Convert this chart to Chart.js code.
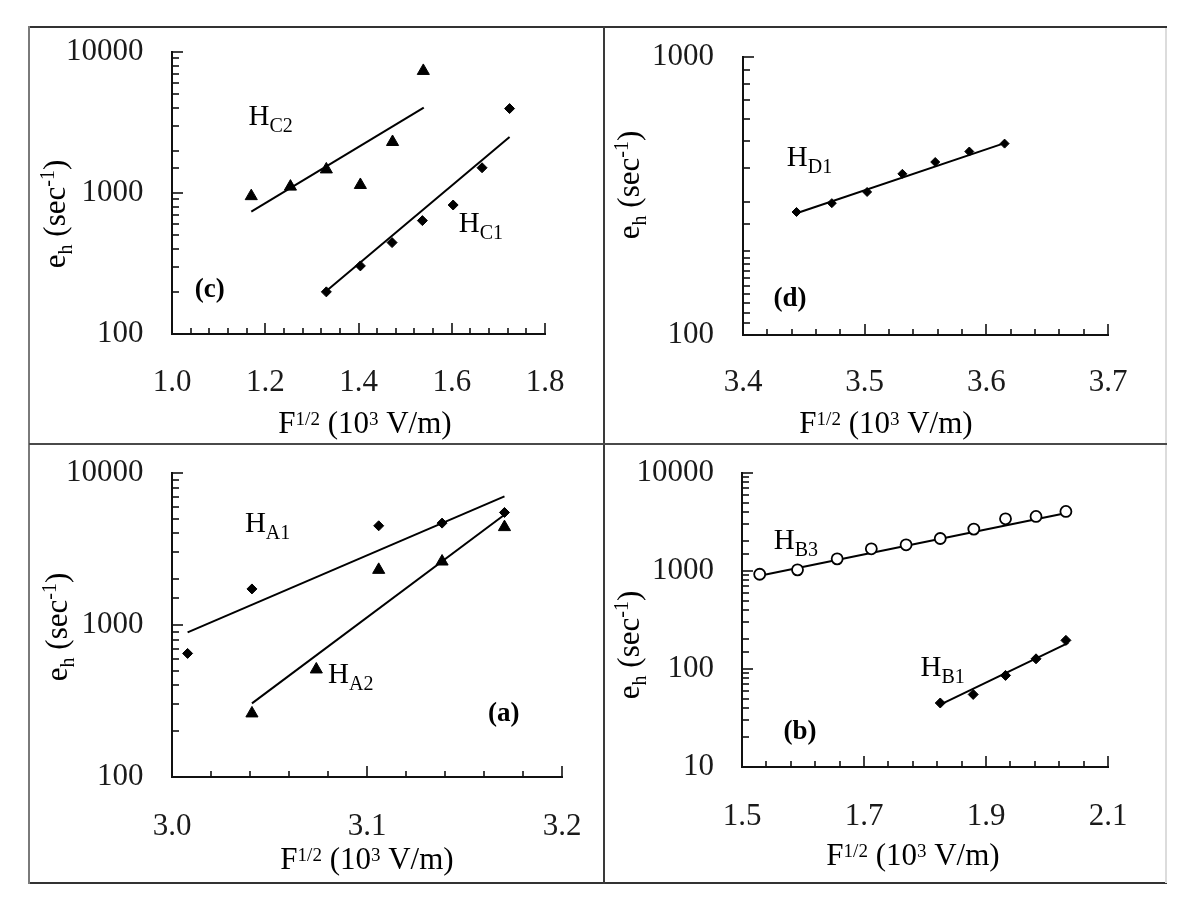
<!DOCTYPE html>
<html><head><meta charset="utf-8">
<script src="https://cdn.jsdelivr.net/npm/chart.js@4.4.0/dist/chart.umd.min.js"></script>
<style>
body{margin:0;background:#fff;}
#wrap{position:relative;width:1200px;height:909px;background:#fff;overflow:hidden;}
canvas{position:absolute;}
.ln{position:absolute;z-index:5;}
</style></head><body><div id="wrap">
<canvas id="pc"></canvas><canvas id="pd"></canvas><canvas id="pa"></canvas><canvas id="pb"></canvas>
<div class="ln" style="left:29px;top:26px;width:1138px;height:2px;background:#333"></div>
<div class="ln" style="left:29px;top:882px;width:1138px;height:2px;background:#333"></div>
<div class="ln" style="left:28px;top:26px;width:2px;height:858px;background:#7a7a7a"></div>
<div class="ln" style="left:1165px;top:28px;width:2px;height:855px;background:#dcdcdc"></div>
<div class="ln" style="left:603px;top:26px;width:2px;height:858px;background:#3a3a3a"></div>
<div class="ln" style="left:29px;top:443px;width:1138px;height:2px;background:#4a4a4a"></div>
</div>
<script>
// ---------- data ----------
// panel (c)
const cXLabels = ['1.0','1.2','1.4','1.6','1.8'];
const cYLabels = ['100','1000','10000'];
const cC2x = [1.170, 1.254, 1.331, 1.404, 1.473, 1.539];
const cC2y = [950, 1110, 1470, 1140, 2300, 7340];
const cC2fitX = [1.170, 1.540];
const cC2fitY = [738, 4036];
const cC1x = [1.331, 1.404, 1.472, 1.537, 1.603, 1.665, 1.724];
const cC1y = [199, 304, 445, 637, 822, 1510, 3970];
const cC1fitX = [1.331, 1.724];
const cC1fitY = [202, 2500];
// panel (d)
const dXLabels = ['3.4','3.5','3.6','3.7'];
const dYLabels = ['100','1000'];
const dD1x = [3.444, 3.473, 3.502, 3.531, 3.558, 3.586, 3.615];
const dD1y = [277, 298, 327, 380, 419, 457, 488];
const dD1fitX = [3.444, 3.615];
const dD1fitY = [274, 490];
// panel (a)
const aXLabels = ['3.0','3.1','3.2'];
const aYLabels = ['100','1000','10000'];
const aA1x = [3.008, 3.041, 3.106, 3.1385, 3.1705];
const aA1y = [650, 1727, 4495, 4680, 5500];
const aA1fitX = [3.008, 3.1705];
const aA1fitY = [895, 7020];
const aA2x = [3.041, 3.074, 3.106, 3.1385, 3.1705];
const aA2y = [262, 510, 2305, 2616, 4405];
const aA2fitX = [3.041, 3.1705];
const aA2fitY = [305, 5313];
// panel (b)
const bXLabels = ['1.5','1.7','1.9','2.1'];
const bYLabels = ['10','100','1000','10000'];
const bB3x = [1.529, 1.591, 1.656, 1.712, 1.769, 1.825, 1.880, 1.932, 1.982, 2.031];
const bB3y = [927, 1027, 1330, 1683, 1849, 2147, 2675, 3410, 3604, 4055];
const bB3fitX = [1.527, 2.032];
const bB3fitY = [891, 3900];
const bB1x = [1.825, 1.879, 1.932, 1.982, 2.031];
const bB1y = [45, 55, 86, 127, 196];
const bB1fitX = [1.825, 2.035];
const bB1fitY = [43.4, 185];

// ---------- layout / style ----------
const FONT = '"Liberation Serif", "Times New Roman", serif';
const PANELS = {
  c: {cl:30, ct:28, cw:574, ch:416, al:172, at:52, ar:545, ab:334, xmin:1.0, xmax:1.8, xstep:0.04, xpad:30, ypad:28.5,
      ymin:100, ymax:10000, xLabels:cXLabels, yLabels:cYLabels, xTitle:{x:365,y:433}, yTitle:{x:57,y:214},
      notes:[{x:1.164,y:3565,main:'H',sub:'C2'},{x:1.615,y:613,main:'H',sub:'C1'},{x:1.049,y:213,main:'(c)',bold:true}]},
  d: {cl:605, ct:28, cw:560, ch:416, al:743, at:57, ar:1108, ab:335, xmin:3.4, xmax:3.7, xstep:0.02, xpad:29, ypad:29,
      ymin:100, ymax:1000, xLabels:dXLabels, yLabels:dYLabels, xTitle:{x:886,y:433}, yTitle:{x:631,y:185},
      notes:[{x:3.436,y:437,main:'H',sub:'D1'},{x:3.425,y:137,main:'(d)',bold:true}]},
  a: {cl:30, ct:445, cw:574, ch:437, al:172, at:473, ar:562, ab:777, xmin:3.0, xmax:3.2, xstep:0.02, xpad:31, ypad:28.5,
      ymin:100, ymax:10000, xLabels:aXLabels, yLabels:aYLabels, xTitle:{x:367,y:869}, yTitle:{x:59,y:627},
      notes:[{x:3.0374,y:4703,main:'H',sub:'A1'},{x:3.080,y:483,main:'H',sub:'A2'},{x:3.162,y:268,main:'(a)',bold:true}]},
  b: {cl:605, ct:445, cw:560, ch:437, al:742, at:473, ar:1108, ab:767, xmin:1.5, xmax:2.1, xstep:0.04, xpad:31, ypad:28,
      ymin:10, ymax:10000, xLabels:bXLabels, yLabels:bYLabels, xTitle:{x:913,y:865}, yTitle:{x:631,y:645},
      notes:[{x:1.552,y:2080,main:'H',sub:'B3'},{x:1.7926,y:105,main:'H',sub:'B1'},{x:1.568,y:24.3,main:'(b)',bold:true}]}
};

function pts(xs, ys){ return xs.map((x,i)=>({x:x, y:ys[i]})); }
function marks(xs, ys, style, r, open){
  return {data:pts(xs,ys), pointStyle:style, pointRadius:r, pointHoverRadius:r,
    pointBackgroundColor: open ? '#fff' : '#000', pointBorderColor:'#000', pointBorderWidth: open ? 1.8 : 1, showLine:false};
}
function fit(xs, ys){
  return {data:pts(xs,ys), showLine:true, borderColor:'#000', borderWidth:2, pointRadius:0, fill:false};
}

function drawRich(ctx, segs, x, y, align){
  let w = 0;
  segs.forEach(s=>{ ctx.font=(s.bold?'bold ':'')+s.size+'px '+FONT; s.w=ctx.measureText(s.t).width; w+=s.w; });
  let cx = align==='center' ? x - w/2 : x;
  segs.forEach(s=>{ ctx.font=(s.bold?'bold ':'')+s.size+'px '+FONT; ctx.fillText(s.t, cx, y+(s.dy||0)); cx+=s.w; });
}

const deco = {
  id:'deco',
  afterDraw(chart, args, P){
    const ctx = chart.ctx, xs = chart.scales.x, ys = chart.scales.y, A = chart.chartArea;
    ctx.save();
    ctx.strokeStyle = '#111'; ctx.lineWidth = 1.6;
    xs.ticks.forEach(t=>{
      const px = Math.round(xs.getPixelForValue(t.value));
      const len = t.label ? 11 : 6;
      ctx.beginPath(); ctx.moveTo(px, A.bottom); ctx.lineTo(px, A.bottom-len); ctx.stroke();
    });
    ys.ticks.forEach(t=>{
      const py = Math.round(ys.getPixelForValue(t.value));
      const len = t.label ? 11 : 7;
      ctx.beginPath(); ctx.moveTo(A.left, py); ctx.lineTo(A.left+len, py); ctx.stroke();
    });
    ctx.fillStyle = '#000'; ctx.textBaseline = 'alphabetic'; ctx.textAlign = 'left';
    P.notes.forEach(n=>{
      const px = xs.getPixelForValue(n.x), py = ys.getPixelForValue(n.y);
      const segs = n.bold ? [{t:n.main,size:27,bold:true}] : [{t:n.main,size:29},{t:n.sub,size:20,dy:7}];
      drawRich(ctx, segs, px, py+9.5, 'left');
    });
    drawRich(ctx, [{t:'F',size:31},{t:'1/2',size:19,dy:-8},{t:' (10',size:31},{t:'3',size:19,dy:-8},{t:' V/m)',size:31}],
      P.xTitle.x-P.cl, P.xTitle.y-P.ct, 'center');
    ctx.translate(P.yTitle.x-P.cl, P.yTitle.y-P.ct); ctx.rotate(-Math.PI/2);
    drawRich(ctx, [{t:'e',size:31},{t:'h',size:20,dy:7},{t:' (sec',size:31},{t:'-1',size:20,dy:-11},{t:')',size:31}], 0, 8, 'center');
    ctx.restore();
  }
};

function makeChart(id, P, datasets){
  const c = document.getElementById(id);
  c.width = P.cw; c.height = P.ch; c.style.left = P.cl+'px'; c.style.top = P.ct+'px';
  return new Chart(c, {
    type:'scatter',
    data:{datasets:datasets},
    options:{
      responsive:false, animation:false, events:[],
      layout:{padding:{left:0, top:P.at-P.ct, right:P.cl+P.cw-P.ar, bottom:0}},
      plugins:{legend:{display:false}, tooltip:{enabled:false}, deco:P},
      scales:{
        x:{type:'linear', position:'bottom', min:P.xmin, max:P.xmax,
           afterFit:s=>{ s.height = P.ct+P.ch-P.ab; },
           grid:{display:false, drawTicks:true, tickLength:P.xpad},
           border:{display:true, color:'#111', width:2},
           ticks:{stepSize:P.xstep, autoSkip:false, maxRotation:0, minRotation:0, padding:0, color:'#1a1a1a',
             font:{family:FONT, size:31},
             callback:v=>{ const s=Number(v).toFixed(1); return (P.xLabels.includes(s) && Math.abs(v-Number(s))<1e-6) ? s : ''; }}},
        y:{type:'logarithmic', position:'left', min:P.ymin, max:P.ymax,
           afterFit:s=>{ s.width = P.al-P.cl; },
           grid:{display:false, drawTicks:true, tickLength:P.ypad},
           border:{display:true, color:'#111', width:2},
           ticks:{autoSkip:false, padding:0, color:'#1a1a1a', font:{family:FONT, size:31},
             callback:v=>{ const s=String(Math.round(v)); return (P.yLabels.includes(s) && Math.abs(v-Math.round(v))<1e-6) ? s : ''; }}}
      }
    },
    plugins:[deco]
  });
}

makeChart('pc', PANELS.c, [
  marks(cC2x, cC2y, 'triangle', 7), marks(cC1x, cC1y, 'rectRot', 5),
  fit(cC2fitX, cC2fitY), fit(cC1fitX, cC1fitY)
]);
makeChart('pd', PANELS.d, [
  marks(dD1x, dD1y, 'rectRot', 4.5), fit(dD1fitX, dD1fitY)
]);
makeChart('pa', PANELS.a, [
  marks(aA1x, aA1y, 'rectRot', 5), marks(aA2x, aA2y, 'triangle', 7),
  fit(aA1fitX, aA1fitY), fit(aA2fitX, aA2fitY)
]);
makeChart('pb', PANELS.b, [
  marks(bB3x, bB3y, 'circle', 5.5, true), marks(bB1x, bB1y, 'rectRot', 5),
  fit(bB3fitX, bB3fitY), fit(bB1fitX, bB1fitY)
]);
</script>
</body></html>
